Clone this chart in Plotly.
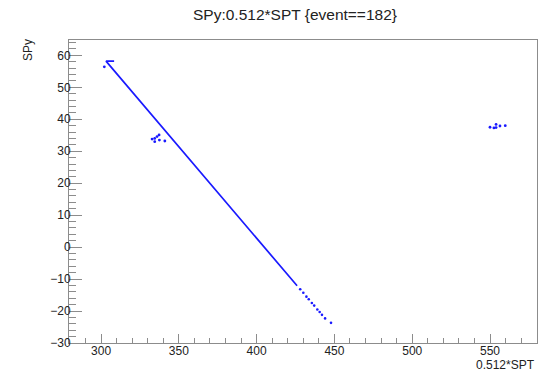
import plotly.graph_objects as go

# Dense part of the track (drawn as a continuous line through read-off vertices)
track_x = [308.4, 303.2, 426.0]
track_y = [58.2, 58.2, -12.1]

# Sparser tail points of the track
tail_x = [428.0, 430.0, 432.0, 433.5, 435.5, 437.0, 439.0, 440.5, 442.0, 444.0, 447.8]
tail_y = [-13.2, -14.3, -15.5, -16.3, -17.5, -18.3, -19.5, -20.3, -21.2, -22.3, -23.7]

# Isolated / clustered points
pts_x = [302.1, 332.8, 334.5, 334.5, 336.0, 337.3, 337.5, 341.0,
         550.0, 552.5, 553.9, 553.9, 556.4, 559.8]
pts_y = [56.4, 33.8, 34.0, 33.0, 34.6, 35.1, 33.5, 33.2,
         37.5, 37.3, 38.4, 37.4, 37.9, 38.0]

title_text = "SPy:0.512*SPT {event==182}"
x_title = "0.512*SPT"
y_title = "SPy"

x_range = [279.4, 580.2]
y_range = [-30.0, 64.8]

BLUE = "#1a1aff"
LINE = "#8c8c8c"
TXT = "#222222"
FONT = "Liberation Sans, Arial, sans-serif"

fig = go.Figure()
fig.add_trace(go.Scatter(x=track_x, y=track_y, mode="lines",
                         line=dict(color=BLUE, width=1.7), hoverinfo="skip"))
fig.add_trace(go.Scatter(x=tail_x, y=tail_y, mode="markers",
                         marker=dict(color=BLUE, size=2.6, line=dict(width=0))))
fig.add_trace(go.Scatter(x=pts_x, y=pts_y, mode="markers",
                         marker=dict(color=BLUE, size=2.8, line=dict(width=0))))

axis_common = dict(showgrid=False, zeroline=False, showline=True, mirror=True,
                   linecolor=LINE, linewidth=1, ticks="inside", tickcolor=LINE,
                   tickwidth=1, tickfont=dict(family=FONT, size=12, color=TXT))

fig.update_xaxes(range=x_range, tick0=0, dtick=50, ticklen=9,
                 ticklabelstandoff=-3,
                 minor=dict(tick0=0, dtick=10, ticklen=5, ticks="inside",
                            tickcolor=LINE, tickwidth=1),
                 **axis_common)
fig.update_yaxes(range=y_range, tick0=0, dtick=10, ticklen=13,
                 ticklabelstandoff=-5,
                 minor=dict(tick0=0, dtick=2, ticklen=7, ticks="inside",
                            tickcolor=LINE, tickwidth=1),
                 **axis_common)

fig.update_layout(
    width=539, height=374,
    margin=dict(l=69, r=2, t=40, b=31),
    plot_bgcolor="white", paper_bgcolor="white",
    showlegend=False,
    annotations=[
        dict(text=title_text, xref="paper", yref="paper", x=0.482, y=1,
             xanchor="center", yanchor="middle", yshift=25.5, showarrow=False,
             font=dict(family=FONT, size=15.5, color=TXT)),
        dict(text=x_title, xref="paper", yref="paper", x=1, y=0,
             xanchor="right", yanchor="middle", yshift=-22, showarrow=False,
             font=dict(family=FONT, size=12, color=TXT)),
        dict(text=y_title, xref="paper", yref="paper", x=0, y=1,
             xanchor="center", yanchor="top", xshift=-41, yshift=3,
             textangle=-90, showarrow=False,
             font=dict(family=FONT, size=12, color=TXT)),
    ],
)

fig.write_html("out.html")
